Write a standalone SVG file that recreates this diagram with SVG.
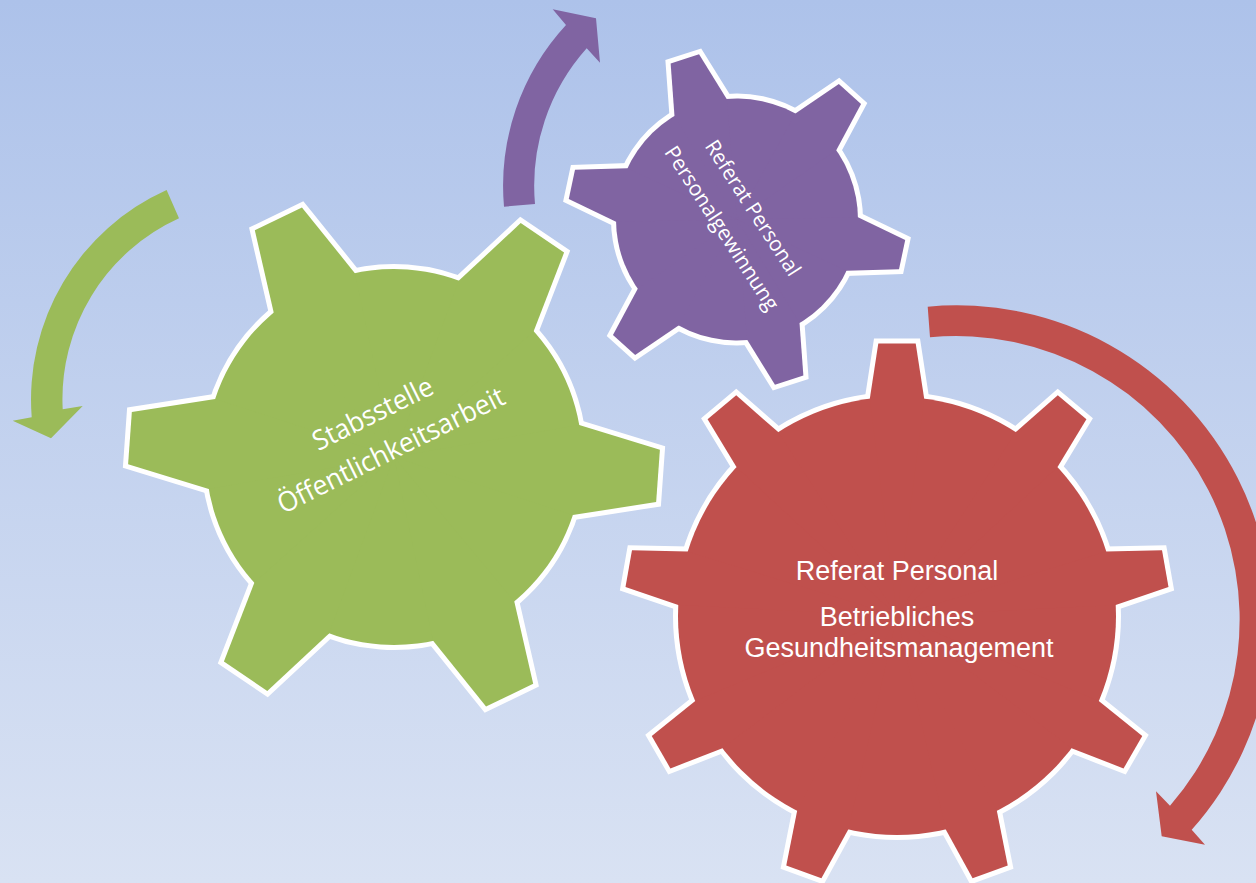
<svg xmlns="http://www.w3.org/2000/svg" xmlns:xlink="http://www.w3.org/1999/xlink" width="1256" height="883" viewBox="0 0 1256 883">
<style>
.outline{fill:#fff;stroke:#fff;stroke-width:10;stroke-linejoin:miter}
.green{fill:#9BBB59;stroke:none}
.purple{fill:#8064A2;stroke:none}
.red{fill:#C0504D;stroke:none}
.lbl{fill:#fff;font-family:"Open Sans","Liberation Sans",sans-serif;text-anchor:middle}
.lbl2{fill:#fff;font-family:"Liberation Sans","Open Sans",sans-serif;font-size:27px;text-anchor:middle}
</style>
<defs>
<linearGradient id="bg" x1="0" y1="0" x2="0" y2="1">
<stop offset="0" stop-color="#adc2ea"/>
<stop offset="1" stop-color="#d9e2f3"/>
</linearGradient>
<g id="gearL">
<circle r="188"/>
<polygon id="toothL" points="0,0 182.5,-45.1 264.7,-26.2 264.7,26.2 182.5,45.1"/>
<use xlink:href="#toothL" transform="rotate(60)"/>
<use xlink:href="#toothL" transform="rotate(120)"/>
<use xlink:href="#toothL" transform="rotate(180)"/>
<use xlink:href="#toothL" transform="rotate(240)"/>
<use xlink:href="#toothL" transform="rotate(300)"/>
</g>
<g id="gearS">
<circle r="121"/>
<polygon id="toothS" points="0,0 117.85,-27.44 168.8,-14.93 168.8,14.93 117.85,27.44"/>
<use xlink:href="#toothS" transform="rotate(60)"/>
<use xlink:href="#toothS" transform="rotate(120)"/>
<use xlink:href="#toothS" transform="rotate(180)"/>
<use xlink:href="#toothS" transform="rotate(240)"/>
<use xlink:href="#toothS" transform="rotate(300)"/>
</g>
<g id="gear9">
<circle r="219"/>
<polygon id="tooth9" points="0,0 217.3,-27.2 272.4,-18.7 272.4,18.7 217.3,27.2"/>
<use xlink:href="#tooth9" transform="rotate(40)"/>
<use xlink:href="#tooth9" transform="rotate(80)"/>
<use xlink:href="#tooth9" transform="rotate(120)"/>
<use xlink:href="#tooth9" transform="rotate(160)"/>
<use xlink:href="#tooth9" transform="rotate(200)"/>
<use xlink:href="#tooth9" transform="rotate(240)"/>
<use xlink:href="#tooth9" transform="rotate(280)"/>
<use xlink:href="#tooth9" transform="rotate(320)"/>
</g>
</defs>
<rect width="1256" height="883" fill="url(#bg)"/>
<g id="connectors">
<path id="arrow-green" class="green" d="M166.6,190 A229.8,229.8 0 0 0 31.7,417.2 L12.7,420.7 L51,438.3 L82.7,406 L62.7,409.3 A198.6,198.6 0 0 1 179,218.3 Z"/>
<path id="arrow-purple" class="purple" d="M504,206.7 A237.2,237.2 0 0 1 566,25 L552.7,9.3 L596,18.3 L600,62.7 L586.7,48.3 A206.2,206.2 0 0 0 535,204 Z"/>
<path id="arrow-red" class="red" d="M927.7,306.7 A314.8,314.8 0 0 1 1191.7,829.7 L1205,844.7 L1161.7,836.3 L1156,791.3 L1170,805.7 A283.5,283.5 0 0 0 930,337.3 Z"/>
</g>
<g id="node-green">
<g transform="translate(394,457) rotate(4.1)">
<use xlink:href="#gearL" class="outline"/>
<use xlink:href="#gearL" class="green"/>
</g>
<g transform="translate(386,440.4) rotate(-26.4)">
<text class="lbl" font-size="27.5" x="0" y="-20.5" textLength="131" lengthAdjust="spacingAndGlyphs">Stabsstelle</text>
<text class="lbl" font-size="27.5" x="0" y="20.5" textLength="250" lengthAdjust="spacingAndGlyphs">Öffentlichkeitsarbeit</text>
</g>
</g>
<g id="node-purple">
<g transform="translate(737,219.5) rotate(12)">
<use xlink:href="#gearS" class="outline"/>
<use xlink:href="#gearS" class="purple"/>
</g>
<g transform="translate(736,219) rotate(57)">
<text class="lbl" font-size="21" x="0" y="-13" textLength="157" lengthAdjust="spacingAndGlyphs">Referat Personal</text>
<text class="lbl" font-size="21" x="0" y="24" textLength="191" lengthAdjust="spacingAndGlyphs">Personalgewinnung</text>
</g>
</g>
<g id="node-red">
<g transform="translate(897,616) rotate(-90)">
<use xlink:href="#gear9" class="outline"/>
<use xlink:href="#gear9" class="red"/>
</g>
<text class="lbl2" x="897" y="580">Referat Personal</text>
<text class="lbl2" x="897" y="626">Betriebliches</text>
<text class="lbl2" x="899" y="657">Gesundheitsmanagement</text>
</g>
</svg>
